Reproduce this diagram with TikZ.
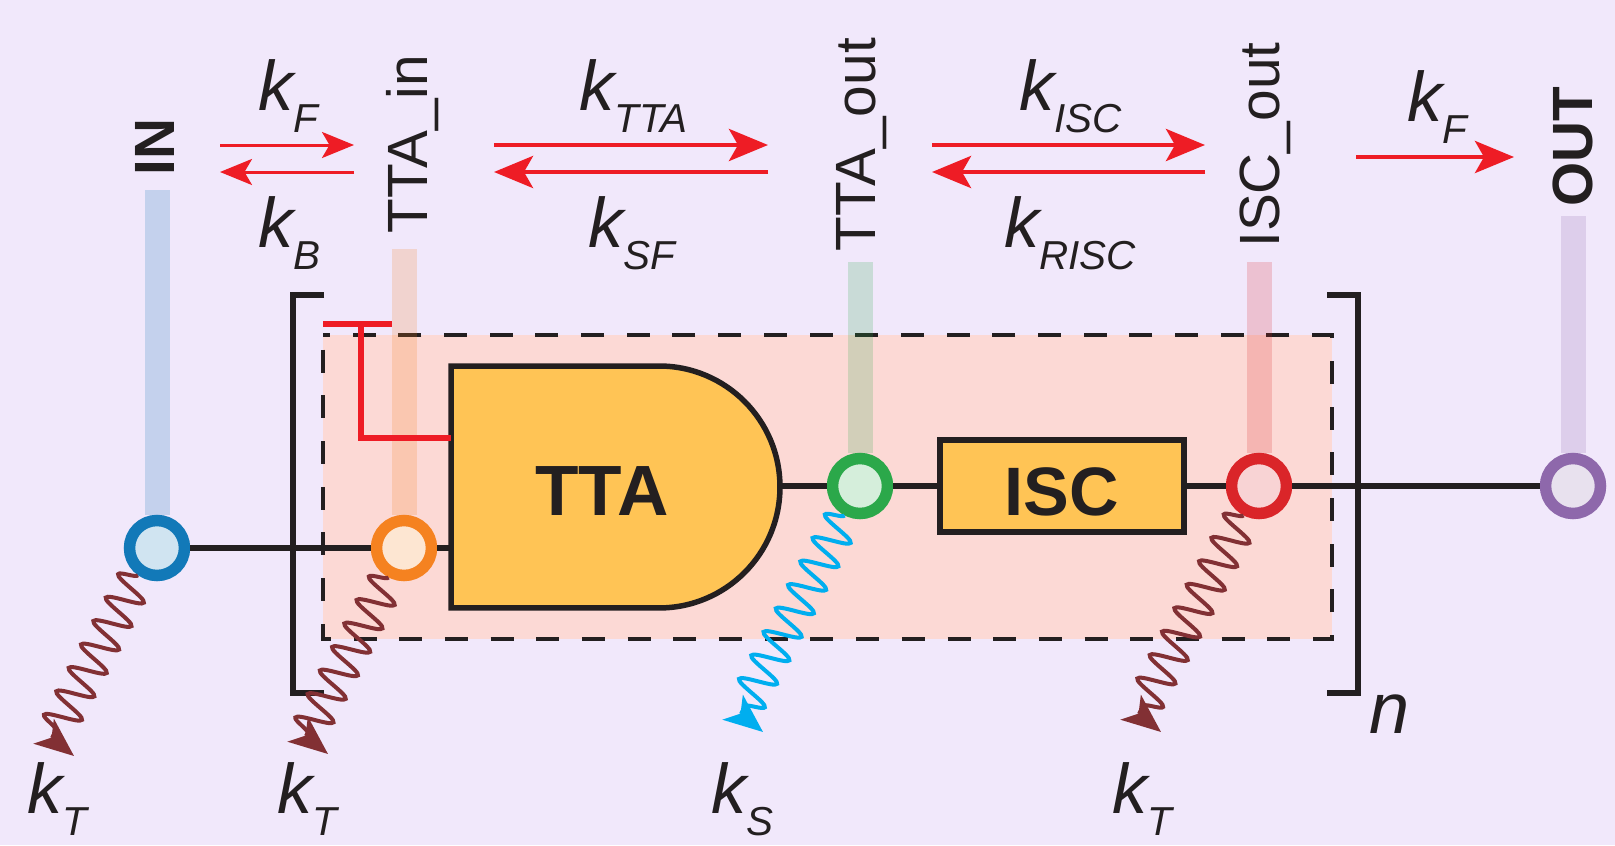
\documentclass[tikz,border=0pt]{standalone}
\usepackage{fontspec}
\setmainfont{Liberation Sans}
\usetikzlibrary{arrows.meta, decorations.pathmorphing}

\definecolor{ink}{HTML}{231F20}
\definecolor{backdrop}{HTML}{F1E8FB}
\definecolor{peach}{HTML}{FCD9D5}
\definecolor{gold}{HTML}{FFC455}
\definecolor{rateRed}{HTML}{EE1C25}
\definecolor{ringIn}{HTML}{1279B8}
\definecolor{ringTin}{HTML}{F58220}
\definecolor{ringTout}{HTML}{2BA84A}
\definecolor{ringIout}{HTML}{DA2529}
\definecolor{ringOut}{HTML}{8E68AB}
\definecolor{tripletLoss}{HTML}{823034}
\definecolor{singletLoss}{HTML}{00AEEF}

\newcommand{\ratek}[1]{{\fontsize{40}{48}\selectfont\itshape k\raisebox{-13pt}{\fontsize{23}{28}\selectfont #1}}}

\begin{document}
\begin{tikzpicture}[x=0.02cm, y=-0.02cm]
	\tikzstyle{ring} = [circle, draw=#1, line width=0.23cm, fill=#1!20, minimum size=1.1cm, inner sep=0]
	\tikzstyle{lead} = [line width=0.5cm, draw=#1, opacity=0.2]
	\tikzstyle{wire} = [draw=ink, line width=0.11cm]
	\tikzstyle{wave} = [color=#1, line width=0.08cm, decorate, decoration={snake, segment length=0.53cm, amplitude=0.36cm, mirror}]
	\tikzstyle{waveTip} = [color=#1, line width=0.08cm, -{Stealth[length=0.78cm, width=0.64cm, inset=0.2cm]}]
	\tikzstyle{thinRate} = [color=rateRed, line width=0.06cm, -{Stealth[length=0.64cm, width=0.52cm, inset=0.15cm]}]
	\tikzstyle{thickRate} = [color=rateRed, line width=0.09cm, -{Stealth[length=0.78cm, width=0.64cm, inset=0.18cm]}]
	\tikzstyle{siteName} = [inner sep=0, rotate=90, anchor=base west, text=ink, font=\fontsize{32.3}{38}\selectfont]
	\tikzstyle{rateName} = [inner sep=0, anchor=base west, text=ink]

	\useasboundingbox (0, 0) rectangle (1615, 845);
	\fill[backdrop] (0, 0) rectangle (1615, 845);

	% repeat unit
	\fill[peach] (323, 335) rectangle (1332, 639);
	\draw[ink, line width=0.08cm, dash pattern=on 0.46cm off 0.454cm, dash phase=0.62cm] (323, 335) rectangle (1332, 639);

	% brackets
	\draw[ink, line width=0.105cm] (324, 295) -- (293, 295) -- (293, 693) -- (324, 693);
	\draw[ink, line width=0.105cm] (1327, 295) -- (1358, 295) -- (1358, 693) -- (1327, 693);
	\node[rateName, font=\fontsize{41}{48}\selectfont\itshape] at (1369, 733) (nrep) {n};

	% sites
	\node[ring=ringIn] 		at (157, 548) 	(in) 	{};
	\node[ring=ringTin] 	at (404, 548) 	(tin) 	{};
	\node[ring=ringTout] 	at (860, 486) 	(tout) 	{};
	\node[ring=ringIout] 	at (1259, 486) 	(iout) 	{};
	\node[ring=ringOut] 	at (1573, 486) 	(out) 	{};

	% gate
	\draw[wire, fill=gold] (451, 366) -- (659, 366) arc[start angle=90, end angle=-90, radius=2.42cm] -- ++(-208, 0) -- cycle;
	\node[inner sep=0, anchor=base, text=ink, font=\fontsize{40.5}{48}\selectfont\bfseries] at (602, 515) (tta) {TTA};
	\node[wire, fill=gold, text=ink, inner sep=0, minimum width=4.88cm, minimum height=1.84cm, text height=1.16cm, text depth=0cm, font=\fontsize{39}{46}\selectfont\bfseries] at (1062, 486) (isc) {ISC};
	\coordinate (ttaw) at (451, 548);
	\coordinate (ttae) at (780, 486);

	% chain
	\path[wire]
	(in)	edge	(tin)
	(tin)	edge	(ttaw)
	(ttae)	edge	(tout)
	(tout)	edge	(isc)
	(isc)	edge	(iout)
	(iout)	edge	(out);

	% leads
	\coordinate (lin) at (157, 190);
	\coordinate (ltin) at (404, 249);
	\coordinate (ltout) at (860, 262);
	\coordinate (liout) at (1259, 262);
	\coordinate (lout) at (1573, 216);
	\draw[lead=ringIn] (lin) -- (in);
	\draw[lead=ringTin] (ltin) -- (tin);
	\draw[lead=ringTout] (ltout) -- (tout);
	\draw[lead=ringIout] (liout) -- (iout);
	\draw[lead=ringOut] (lout) -- (out);

	% inhibition
	\coordinate (barl) at (323, 324);
	\coordinate (barr) at (392, 324);
	\coordinate (gatei) at (451, 438);
	\draw[rateRed, line width=0.105cm] (barl) -- (barr);
	\draw[rateRed, line width=0.105cm] (361, 324) |- (gatei);

	% site names
	\node[siteName, font=\fontsize{32.3}{38}\selectfont\bfseries] at (174, 176) (nin) {IN};
	\node[siteName] at (427, 234) (ntin) {TTA\_in};
	\node[siteName] at (875, 252) (ntout) {TTA\_out};
	\node[siteName] at (1279, 248) (niout) {ISC\_out};
	\node[siteName, font=\fontsize{32.3}{38}\selectfont\bfseries] at (1592, 207) (nout) {OUT};

	% rates along the chain
	\coordinate (fa) at (220, 145);
	\coordinate (fb) at (354, 145);
	\coordinate (ba) at (354, 172);
	\coordinate (bb) at (220, 172);
	\coordinate (ta) at (494, 145);
	\coordinate (tb) at (768, 145);
	\coordinate (sa) at (768, 172);
	\coordinate (sb) at (494, 172);
	\coordinate (ia) at (932, 145);
	\coordinate (ib) at (1205, 145);
	\coordinate (ra) at (1205, 172);
	\coordinate (rb) at (932, 172);
	\coordinate (oa) at (1356, 157);
	\coordinate (ob) at (1514, 157);
	\draw[thinRate] (fa) -- (fb);
	\draw[thinRate] (ba) -- (bb);
	\draw[thickRate] (ta) -- (tb);
	\draw[thickRate] (sa) -- (sb);
	\draw[thickRate] (ia) -- (ib);
	\draw[thickRate] (ra) -- (rb);
	\draw[thickRate] (oa) -- (ob);
	\node[rateName] at (258, 110) (kf) {\ratek{F}};
	\node[rateName] at (258, 247) (kb) {\ratek{B}};
	\node[rateName] at (579, 110) (ktta) {\ratek{TTA}};
	\node[rateName] at (588, 247) (ksf) {\ratek{SF}};
	\node[rateName] at (1019, 110) (kisc) {\ratek{ISC}};
	\node[rateName] at (1004, 247) (krisc) {\ratek{RISC}};
	\node[rateName] at (1407, 121) (kfo) {\ratek{F}};

	% losses
	\coordinate (wa) at (52, 738);
	\coordinate (wah) at (74, 756);
	\coordinate (wb) at (306, 736);
	\coordinate (wbh) at (328, 754);
	\coordinate (wc) at (741, 714);
	\coordinate (wch) at (763, 732);
	\coordinate (wd) at (1139, 714);
	\coordinate (wdh) at (1161, 732);
	\draw[wave=tripletLoss] (in.235) -- (wa);
	\draw[wave=tripletLoss] (tin) -- (wb);
	\draw[wave=singletLoss] (tout) -- (wc);
	\draw[wave=tripletLoss] (iout) -- (wd);
	\draw[waveTip=tripletLoss] (wa) -- (wah);
	\draw[waveTip=tripletLoss] (wb) -- (wbh);
	\draw[waveTip=singletLoss] (wc) -- (wch);
	\draw[waveTip=tripletLoss] (wd) -- (wdh);
	\node[rateName] at (27, 813) (kta) {\ratek{T}};
	\node[rateName] at (277, 813) (ktb) {\ratek{T}};
	\node[rateName] at (711, 813) (ks) {\ratek{S}};
	\node[rateName] at (1112, 813) (ktc) {\ratek{T}};
\end{tikzpicture}
\end{document}
